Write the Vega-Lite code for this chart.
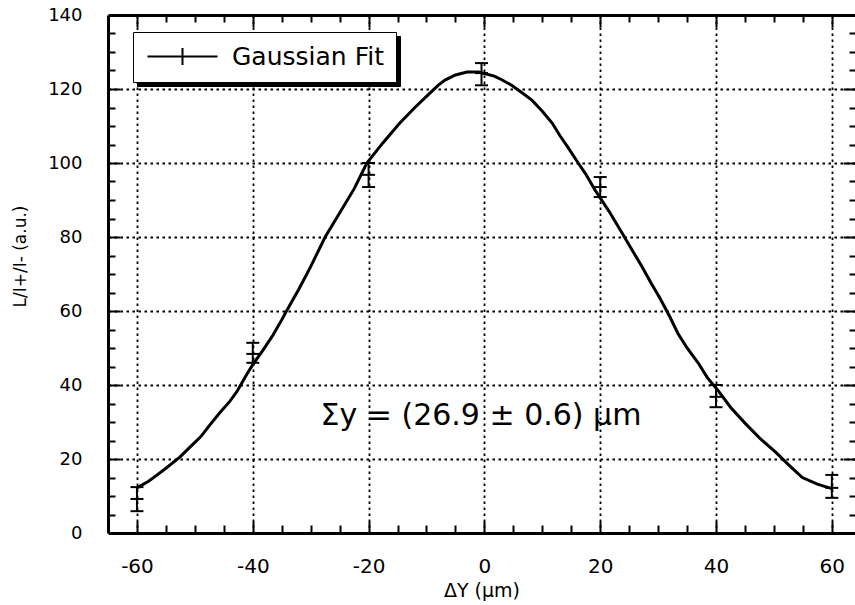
{
  "$schema": "https://vega.github.io/schema/vega-lite/v6.json",
  "width": 747,
  "height": 518,
  "autosize": {"type": "none"},
  "padding": {"left": 108, "top": 15, "right": 0, "bottom": 72},
  "background": "white",
  "config": {
    "view": {"stroke": null},
    "axis": {
      "labelFont": "DejaVu Sans",
      "titleFont": "DejaVu Sans",
      "labelColor": "black",
      "titleColor": "black",
      "domainColor": "black",
      "tickColor": "black",
      "gridColor": "black",
      "titleFontWeight": "normal"
    }
  },
  "datasets": {
    "curve": [
      {"dy": -60, "v": 12.2, "series": "Gaussian Fit"},
      {"dy": -58, "v": 14, "series": "Gaussian Fit"},
      {"dy": -56.5, "v": 15.7, "series": "Gaussian Fit"},
      {"dy": -55, "v": 17.5, "series": "Gaussian Fit"},
      {"dy": -52.6, "v": 20.5, "series": "Gaussian Fit"},
      {"dy": -50, "v": 24.5, "series": "Gaussian Fit"},
      {"dy": -49, "v": 26, "series": "Gaussian Fit"},
      {"dy": -47.5, "v": 29, "series": "Gaussian Fit"},
      {"dy": -45.7, "v": 32.5, "series": "Gaussian Fit"},
      {"dy": -44, "v": 35.5, "series": "Gaussian Fit"},
      {"dy": -42.7, "v": 38.3, "series": "Gaussian Fit"},
      {"dy": -41, "v": 43, "series": "Gaussian Fit"},
      {"dy": -40, "v": 45.5, "series": "Gaussian Fit"},
      {"dy": -38.2, "v": 49.5, "series": "Gaussian Fit"},
      {"dy": -36.5, "v": 53.5, "series": "Gaussian Fit"},
      {"dy": -35, "v": 57.6, "series": "Gaussian Fit"},
      {"dy": -34, "v": 60.5, "series": "Gaussian Fit"},
      {"dy": -32, "v": 66, "series": "Gaussian Fit"},
      {"dy": -30, "v": 72, "series": "Gaussian Fit"},
      {"dy": -27.5, "v": 80, "series": "Gaussian Fit"},
      {"dy": -25, "v": 86.5, "series": "Gaussian Fit"},
      {"dy": -22.5, "v": 93, "series": "Gaussian Fit"},
      {"dy": -20.3, "v": 100, "series": "Gaussian Fit"},
      {"dy": -17.5, "v": 105.5, "series": "Gaussian Fit"},
      {"dy": -14.6, "v": 110.8, "series": "Gaussian Fit"},
      {"dy": -12, "v": 115, "series": "Gaussian Fit"},
      {"dy": -10, "v": 118, "series": "Gaussian Fit"},
      {"dy": -8, "v": 121, "series": "Gaussian Fit"},
      {"dy": -6.8, "v": 122.4, "series": "Gaussian Fit"},
      {"dy": -5, "v": 123.8, "series": "Gaussian Fit"},
      {"dy": -3, "v": 124.6, "series": "Gaussian Fit"},
      {"dy": -1, "v": 124.6, "series": "Gaussian Fit"},
      {"dy": 1.7, "v": 123.5, "series": "Gaussian Fit"},
      {"dy": 3, "v": 122.5, "series": "Gaussian Fit"},
      {"dy": 4.7, "v": 121, "series": "Gaussian Fit"},
      {"dy": 6.5, "v": 119, "series": "Gaussian Fit"},
      {"dy": 8.2, "v": 117, "series": "Gaussian Fit"},
      {"dy": 10, "v": 114, "series": "Gaussian Fit"},
      {"dy": 11.7, "v": 110.8, "series": "Gaussian Fit"},
      {"dy": 13, "v": 107.5, "series": "Gaussian Fit"},
      {"dy": 14.4, "v": 104.3, "series": "Gaussian Fit"},
      {"dy": 16.2, "v": 100, "series": "Gaussian Fit"},
      {"dy": 17.5, "v": 97, "series": "Gaussian Fit"},
      {"dy": 19.1, "v": 92.7, "series": "Gaussian Fit"},
      {"dy": 21.5, "v": 87, "series": "Gaussian Fit"},
      {"dy": 23.8, "v": 81, "series": "Gaussian Fit"},
      {"dy": 25.5, "v": 76.5, "series": "Gaussian Fit"},
      {"dy": 27.2, "v": 72, "series": "Gaussian Fit"},
      {"dy": 28.8, "v": 67.5, "series": "Gaussian Fit"},
      {"dy": 30.3, "v": 63.5, "series": "Gaussian Fit"},
      {"dy": 32, "v": 58.5, "series": "Gaussian Fit"},
      {"dy": 33.4, "v": 54, "series": "Gaussian Fit"},
      {"dy": 35, "v": 50, "series": "Gaussian Fit"},
      {"dy": 36.9, "v": 46, "series": "Gaussian Fit"},
      {"dy": 38.5, "v": 42, "series": "Gaussian Fit"},
      {"dy": 40.3, "v": 38.6, "series": "Gaussian Fit"},
      {"dy": 42.5, "v": 34, "series": "Gaussian Fit"},
      {"dy": 45, "v": 29.7, "series": "Gaussian Fit"},
      {"dy": 47.5, "v": 25.7, "series": "Gaussian Fit"},
      {"dy": 50.2, "v": 22, "series": "Gaussian Fit"},
      {"dy": 52.5, "v": 18.5, "series": "Gaussian Fit"},
      {"dy": 54.9, "v": 15, "series": "Gaussian Fit"},
      {"dy": 57.5, "v": 13.2, "series": "Gaussian Fit"},
      {"dy": 60, "v": 12, "series": "Gaussian Fit"}
    ],
    "points": [
      {"dy": -60, "v": 9.2, "lo": 5.9, "hi": 12.4},
      {"dy": -40, "v": 48.4, "lo": 46, "hi": 51.4},
      {"dy": -20, "v": 96.8, "lo": 93.5, "hi": 100},
      {"dy": -0.5, "v": 124.3, "lo": 121, "hi": 127},
      {"dy": 20, "v": 93.5, "lo": 90.8, "hi": 96.2},
      {"dy": 40, "v": 36.8, "lo": 34, "hi": 40},
      {"dy": 60, "v": 12.2, "lo": 9.5, "hi": 15.7}
    ],
    "note": [
      {"dy": -28.3, "v": 29.2, "label": "Σy = (26.9 ± 0.6) μm", "shade": "Gaussian Fit"}
    ]
  },
  "resolve": {"axis": {"x": "independent", "y": "independent"}},
  "layer": [
    {
      "data": {"name": "note"},
      "mark": {"type": "text", "align": "left", "baseline": "alphabetic", "font": "DejaVu Sans", "fontSize": 30, "color": "black"},
      "encoding": {
        "x": {
          "field": "dy", "type": "quantitative",
          "scale": {"domain": [-65, 64], "nice": false, "zero": false},
          "axis": {
            "orient": "top",
            "ticks": false,
            "tickSize": 0,
            "labels": false,
            "domainWidth": 3,
            "grid": false,
            "title": null
          }
        },
        "y": {
          "field": "v", "type": "quantitative",
          "scale": {"domain": [0, 140], "nice": false, "zero": false},
          "axis": null
        },
        "text": {"field": "label"},
        "opacity": {
          "field": "shade", "type": "ordinal",
          "scale": {"range": [1]},
          "legend": {
            "orient": "none",
            "legendX": 29,
            "legendY": 21,
            "title": null,
            "symbolType": "M-1,0H6M2.5,-0.85V0.85",
            "symbolSize": 400,
            "symbolStrokeWidth": 2,
            "symbolStrokeColor": "black",
            "symbolFillColor": "black",
            "labelFont": "DejaVu Sans",
            "labelFontSize": 25,
            "labelColor": "black",
            "labelOpacity": 0,
            "labelOffset": 62,
            "labelLimit": 400,
            "padding": 12,
            "strokeColor": "black",
            "fillColor": "black"
          }
        }
      }
    },
    {
      "data": {"name": "curve"},
      "mark": {"type": "line", "stroke": "black", "strokeWidth": 3, "interpolate": "linear"},
      "encoding": {
        "x": {
          "field": "dy", "type": "quantitative",
          "axis": {
            "orient": "bottom",
            "values": [-60, -40, -20, 0, 20, 40, 60],
            "labelExpr": "'' + datum.value",
            "labelFontSize": 20,
            "labelPadding": 23,
            "labelFlush": false,
            "labelOverlap": false,
            "ticks": false,
            "tickSize": 0,
            "domainWidth": 3,
            "grid": true,
            "gridDash": [2.5, 3.5],
            "gridWidth": 1.8,
            "title": "ΔY (μm)",
            "titleFontSize": 19,
            "titlePadding": 5
          }
        },
        "y": {
          "field": "v", "type": "quantitative",
          "axis": {
            "orient": "left",
            "values": [0, 20, 40, 60, 80, 100, 120, 140],
            "labelExpr": "'' + datum.value",
            "labelFontSize": 18,
            "labelPadding": 26,
            "labelFlush": false,
            "labelOverlap": false,
            "ticks": false,
            "tickSize": 0,
            "domainWidth": 3,
            "grid": true,
            "gridDash": [2.5, 3.5],
            "gridWidth": 1.8,
            "gridOpacity": {"condition": {"test": "datum.value > 0 && datum.value < 140", "value": 1}, "value": 0},
            "title": "L/I+/I- (a.u.)",
            "titleFontSize": 17,
            "titlePadding": 18,
            "titleY": 241
          }
        },
        "color": {
          "field": "series", "type": "nominal",
          "scale": {"range": ["black"]},
          "legend": {
            "orient": "none",
            "legendX": 25,
            "legendY": 17,
            "title": null,
            "symbolType": "M-1,0H6M2.5,-0.85V0.85",
            "symbolSize": 400,
            "symbolStrokeWidth": 2,
            "symbolStrokeColor": "black",
            "symbolFillColor": "transparent",
            "labelFont": "DejaVu Sans",
            "labelFontSize": 25,
            "labelColor": "black",
            "labelOffset": 62,
            "labelLimit": 400,
            "padding": 12,
            "strokeColor": "black",
            "fillColor": "white"
          }
        }
      }
    },
    {
      "data": {"name": "points"},
      "mark": {"type": "rule", "stroke": "black", "strokeWidth": 2},
      "encoding": {
        "x": {
          "field": "dy", "type": "quantitative",
          "axis": {
            "orient": "bottom",
            "offset": -12,
            "values": [-60, -40, -20, 0, 20, 40, 60],
            "labels": false,
            "tickSize": 12,
            "tickWidth": 2,
            "domain": false,
            "grid": false,
            "title": null
          }
        },
        "y": {
          "field": "lo", "type": "quantitative",
          "axis": {
            "orient": "left",
            "offset": -12,
            "values": [20, 40, 60, 80, 100, 120],
            "labels": false,
            "tickSize": 12,
            "tickWidth": 2,
            "domain": false,
            "grid": false,
            "title": null
          }
        },
        "y2": {"field": "hi"}
      }
    },
    {
      "data": {"name": "points"},
      "mark": {"type": "tick", "orient": "horizontal", "color": "black", "opacity": 1, "size": 13, "thickness": 2},
      "encoding": {
        "x": {
          "field": "dy", "type": "quantitative",
          "axis": {
            "orient": "bottom",
            "offset": -8,
            "values": [-55,-50,-45,-35,-30,-25,-15,-10,-5,5,10,15,25,30,35,45,50,55],
            "labels": false,
            "tickSize": 8,
            "tickWidth": 2,
            "domain": false,
            "grid": false,
            "title": null
          }
        },
        "y": {
          "field": "lo", "type": "quantitative",
          "axis": {
            "orient": "left",
            "offset": -7,
            "values": [5,10,15,25,30,35,45,50,55,65,70,75,85,90,95,105,110,115,125,130,135],
            "labels": false,
            "tickSize": 7,
            "tickWidth": 2,
            "domain": false,
            "grid": false,
            "title": null
          }
        }
      }
    },
    {
      "data": {"name": "points"},
      "mark": {"type": "tick", "orient": "horizontal", "color": "black", "opacity": 1, "size": 13, "thickness": 2},
      "encoding": {
        "x": {
          "field": "dy", "type": "quantitative",
          "axis": {
            "orient": "top",
            "offset": -12,
            "values": [-60, -40, -20, 0, 20, 40, 60],
            "labels": false,
            "tickSize": 12,
            "tickWidth": 2,
            "domain": false,
            "grid": false,
            "title": null
          }
        },
        "y": {
          "field": "v", "type": "quantitative",
          "axis": {
            "orient": "right",
            "offset": -12,
            "values": [20, 40, 60, 80, 100, 120],
            "labels": false,
            "tickSize": 12,
            "tickWidth": 2,
            "domain": false,
            "grid": false,
            "title": null
          }
        }
      }
    },
    {
      "data": {"name": "points"},
      "mark": {"type": "tick", "orient": "horizontal", "color": "black", "opacity": 1, "size": 13, "thickness": 2},
      "encoding": {
        "x": {
          "field": "dy", "type": "quantitative",
          "axis": {
            "orient": "top",
            "offset": -7,
            "values": [-55,-50,-45,-35,-30,-25,-15,-10,-5,5,10,15,25,30,35,45,50,55],
            "labels": false,
            "tickSize": 7,
            "tickWidth": 2,
            "domain": false,
            "grid": false,
            "title": null
          }
        },
        "y": {
          "field": "hi", "type": "quantitative",
          "axis": {
            "orient": "right",
            "offset": -6,
            "values": [5,10,15,25,30,35,45,50,55,65,70,75,85,90,95,105,110,115,125,130,135],
            "labels": false,
            "tickSize": 6,
            "tickWidth": 2,
            "domain": false,
            "grid": false,
            "title": null
          }
        }
      }
    }
  ]
}
